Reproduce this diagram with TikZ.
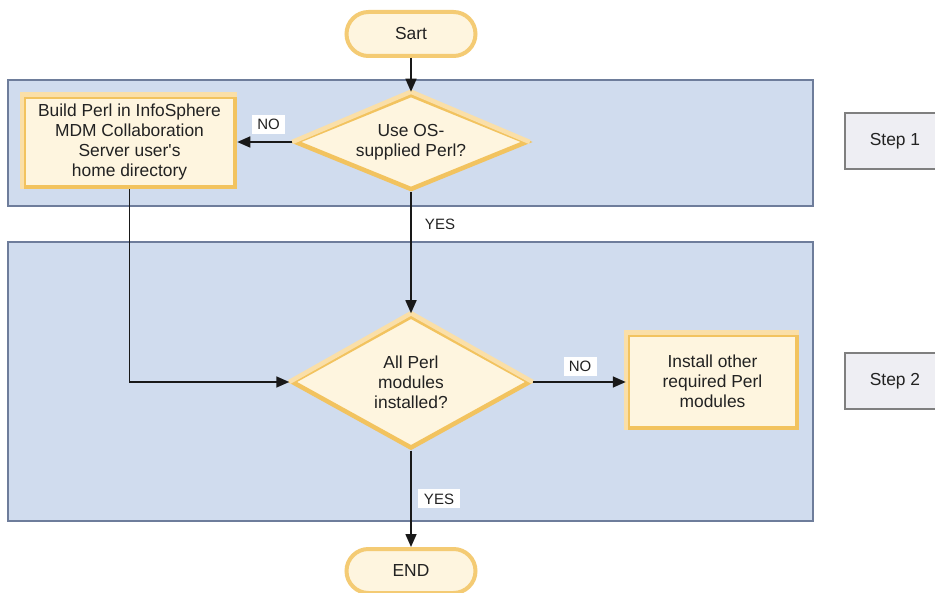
\documentclass[tikz,border=0pt]{standalone}
\usepackage{fontspec}
\setmainfont{Liberation Sans}
\usetikzlibrary{shapes.geometric,arrows.meta}
\definecolor{bandfill}{HTML}{D0DCEE}
\definecolor{banddraw}{HTML}{6E7D9B}
\definecolor{cream}{HTML}{FEF5DF}
\definecolor{bevdark}{HTML}{F2C35F}
\definecolor{bevlight}{HTML}{FADFA8}
\definecolor{termdraw}{HTML}{F4CB74}
\definecolor{stepfill}{HTML}{EEEEF3}
\definecolor{stepdraw}{HTML}{7F7F7F}
\definecolor{txt}{HTML}{222222}
\begin{document}
\begin{tikzpicture}[x=1pt,y=-1pt,
  every node/.style={text=txt, align=center, font=\fontsize{17.4}{20}\selectfont},
  bandbox/.style={draw=banddraw, line width=1.8pt, fill=bandfill, inner sep=0pt},
  procbox/.style={draw=bevdark, line width=4.5pt, fill=cream, inner sep=2pt},
  dia/.style={diamond, draw=bevdark, line width=4.5pt, fill=cream, inner sep=0pt},
  term/.style={draw=termdraw, line width=4pt, fill=cream, rounded corners=22pt, inner sep=0pt},
  stepbox/.style={draw=stepdraw, line width=1.8pt, fill=stepfill, inner sep=0pt},
  lbl/.style={fill=white, inner sep=0pt, minimum height=19pt, minimum width=33pt, font=\fontsize{15}{17}\selectfont},
  conn/.style={draw=black!90, line width=1.6pt, -{Triangle[length=13pt,width=11pt]}},
  plain/.style={draw=black!90, line width=1.6pt}
]
\useasboundingbox (0,0) rectangle (935,593);
\fill[white] (0,0) rectangle (935,593);

% bands
\node[bandbox, minimum width=805pt, minimum height=126pt] (band1) at (410.5,143) {};
\node[bandbox, minimum width=805pt, minimum height=279pt] (band2) at (410.5,381.5) {};

% step boxes
\node[stepbox, minimum width=100pt, minimum height=56pt] (step1) at (895,141) {Step 1};
\node[stepbox, minimum width=100pt, minimum height=56pt] (step2) at (895,381) {Step 2};

% terminals
\node[term, minimum width=129pt, minimum height=44pt] (start) at (411,34) {Sart};
\node[term, minimum width=129pt, minimum height=44pt] (end) at (411,571) {END};

% process boxes
\node[procbox, minimum width=211pt, minimum height=90pt] (build) at (129.5,142) {Build Perl in InfoSphere\\MDM Collaboration\\Server user\textquotesingle s\\home directory};
\draw[bevlight, line width=4.5pt] (build.south west) -- (build.north west) -- (build.north east);
\node[procbox, minimum width=169pt, minimum height=93pt] (install) at (712.5,381.5) {Install other\\required Perl\\modules};
\draw[bevlight, line width=4.5pt] (install.south west) -- (install.north west) -- (install.north east);

% decisions
\node[dia, aspect=2.35, minimum width=233pt, minimum height=96pt] (d1) at (411,142) {Use OS-\\supplied Perl?};
\draw[bevlight, line width=4.5pt] (d1.west) -- (d1.north) -- (d1.east);
\node[dia, aspect=1.8, minimum width=239pt, minimum height=133pt] (d2) at (411,382) {All Perl\\modules\\installed?};
\draw[bevlight, line width=4.5pt] (d2.west) -- (d2.north) -- (d2.east);

% connectors
\draw[conn] (start.south) -- (d1.north);
\draw[conn] (d1.west) -- (d1.west -| build.east);
\draw[conn] (d1.south) -- (d2.north);
\draw[conn] (build.south) |- (d2.west);
\draw[conn] (d2.east) -- (d2.east -| install.west);
\draw[conn] (d2.south) -- (end.north);

% labels
\node[lbl] (no1) at (268.5,124.5) {NO};
\node[lbl, minimum width=40pt] (yes1) at (440,224) {YES};
\node[lbl] (no2) at (580,366.5) {NO};
\node[lbl, minimum width=42pt] (yes2) at (439,499) {YES};
\end{tikzpicture}
\end{document}
